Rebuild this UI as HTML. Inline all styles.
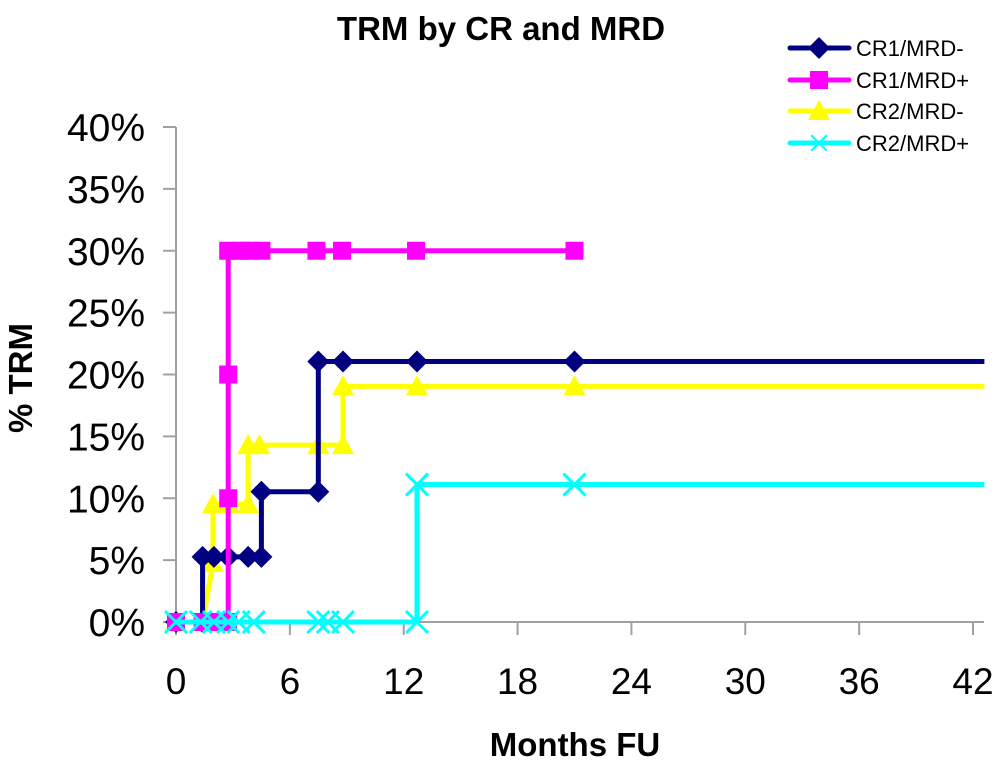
<!DOCTYPE html>
<html><head><meta charset="utf-8"><style>
body{margin:0;background:#fff;}
svg{display:block;font-family:"Liberation Sans",Arial,sans-serif;}
</style></head><body>
<svg id="chart" width="1000" height="766">
<text x="501" y="40" text-anchor="middle" font-size="33" font-weight="bold">TRM by CR and MRD</text>
<text x="575" y="756" text-anchor="middle" font-size="33" font-weight="bold">Months FU</text>
<text transform="translate(32,378) rotate(-90)" text-anchor="middle" font-size="33" font-weight="bold">% TRM</text>
<g id="axes"></g>
<g id="series"></g>
<g id="legend"></g>
</svg>
<script>
const yTicks=[0,5,10,15,20,25,30,35,40];
const yTickLabels=["0%","5%","10%","15%","20%","25%","30%","35%","40%"];
const xTicks=[0,6,12,18,24,30,36,42];
const seriesNames=["CR1/MRD-","CR1/MRD+","CR2/MRD-","CR2/MRD+"];
const navyT=[0,1.4,1.4,2.0,2.75,3.8,4.5,4.5,7.5,7.5,8.8,12.7,21];
const navyV=[0,0,5.26,5.26,5.26,5.26,5.26,10.53,10.53,21.05,21.05,21.05,21.05];
const magT=[0,1.4,2.0,2.75,2.75,2.75,2.75,3.4,3.9,4.5,7.4,8.75,12.65,21];
const magV=[0,0,0,0,10,20,30,30,30,30,30,30,30,30];
const yelT=[0,1.4,1.95,1.95,2.75,3.8,3.8,4.4,7.5,8.8,8.8,12.7,21];
const yelV=[0,0,4.76,9.52,9.52,9.52,14.29,14.29,14.29,14.29,19.05,19.05,19.05];
const cyanT=[0,1.3,2.0,2.75,3.3,4.1,7.5,8.0,8.8,12.7,12.7,21];
const cyanV=[0,0,0,0,0,0,0,0,0,0,11.11,11.11];
const navyTail=42.6, yelTail=42.6, cyanTail=42.6;

const X=m=>176+m*(797/42);
const Y=v=>622-v*(495/40);
const NS="http://www.w3.org/2000/svg";
function mk(tag,attrs,parent){const e=document.createElementNS(NS,tag);for(const k in attrs)e.setAttribute(k,attrs[k]);parent.appendChild(e);return e;}
const axes=document.getElementById('axes');
let e=mk('line',{x1:176,y1:127,x2:176,y2:622,stroke:'#a0a0a0','stroke-width':2},axes);


e=mk('line',{x1:176,y1:622,x2:984,y2:622,stroke:'#a0a0a0','stroke-width':2},axes);


yTicks.forEach((v,i)=>{
  mk('line',{x1:163,y1:Y(v),x2:176,y2:Y(v),stroke:'#a0a0a0','stroke-width':2},axes);
  const t=mk('text',{x:145,y:Y(v)+14,'text-anchor':'end','font-size':39},axes);
  t.textContent=yTickLabels[i];
  
  
});
xTicks.forEach(v=>{
  mk('line',{x1:X(v),y1:622,x2:X(v),y2:635,stroke:'#a0a0a0','stroke-width':2},axes);
  const t=mk('text',{x:X(v),y:694,'text-anchor':'middle','font-size':37},axes);
  t.textContent=String(v);
  
  
});
const sg=document.getElementById('series');
function marker(kind,cx,cy,col,g){
  if(kind==='d')return mk('polygon',{points:`${cx},${cy-11} ${cx+11},${cy} ${cx},${cy+11} ${cx-11},${cy}`,fill:col},g);
  if(kind==='s')return mk('rect',{x:cx-9,y:cy-9,width:18,height:18,fill:col},g);
  if(kind==='t')return mk('polygon',{points:`${cx},${cy-11} ${cx+11},${cy+9} ${cx-11},${cy+9}`,fill:col},g);
  return mk('path',{d:`M${cx-11},${cy-11}L${cx+11},${cy+11}M${cx+11},${cy-11}L${cx-11},${cy+11}`,stroke:col,'stroke-width':3,fill:'none'},g);
}
function drawSeries(T,V,tail,col,kind,name){
  const g=mk('g',{},sg);
  
  
  let pts=T.map((t,i)=>X(t)+','+Y(V[i]));
  if(tail!==null)pts.push(X(tail)+','+Y(V[V.length-1]));
  mk('polyline',{points:pts.join(' '),fill:'none',stroke:col,'stroke-width':5},g);
  T.forEach((t,i)=>{const m=marker(kind,X(t),Y(V[i]),col,g);
    
    });
}
drawSeries(yelT,yelV,yelTail,'#ffff00','t','series-cr2-mrd-neg');
drawSeries(navyT,navyV,navyTail,'#000080','d','series-cr1-mrd-neg');
drawSeries(magT,magV,null,'#ff00ff','s','series-cr1-mrd-pos');
drawSeries(cyanT,cyanV,cyanTail,'#00ffff','x','series-cr2-mrd-pos');
const lg=document.getElementById('legend');
const cols=['#000080','#ff00ff','#ffff00','#00ffff'],kinds=['d','s','t','x'],ly=[48,80,111,143];
seriesNames.forEach((n,i)=>{
  const g=mk('g',{},lg);
  
  
  mk('line',{x1:790,y1:ly[i],x2:849,y2:ly[i],stroke:cols[i],'stroke-width':5,'stroke-linecap':'round'},g);
  const m=marker(kinds[i],819,ly[i],cols[i],g);
  if(kinds[i]==='x'){m.setAttribute('transform',`translate(819,${ly[i]}) scale(0.7) translate(-819,${-ly[i]})`);}
  const t=mk('text',{x:856,y:ly[i]+8,'font-size':22},g);
  t.textContent=n;
});
</script>
</body></html>
